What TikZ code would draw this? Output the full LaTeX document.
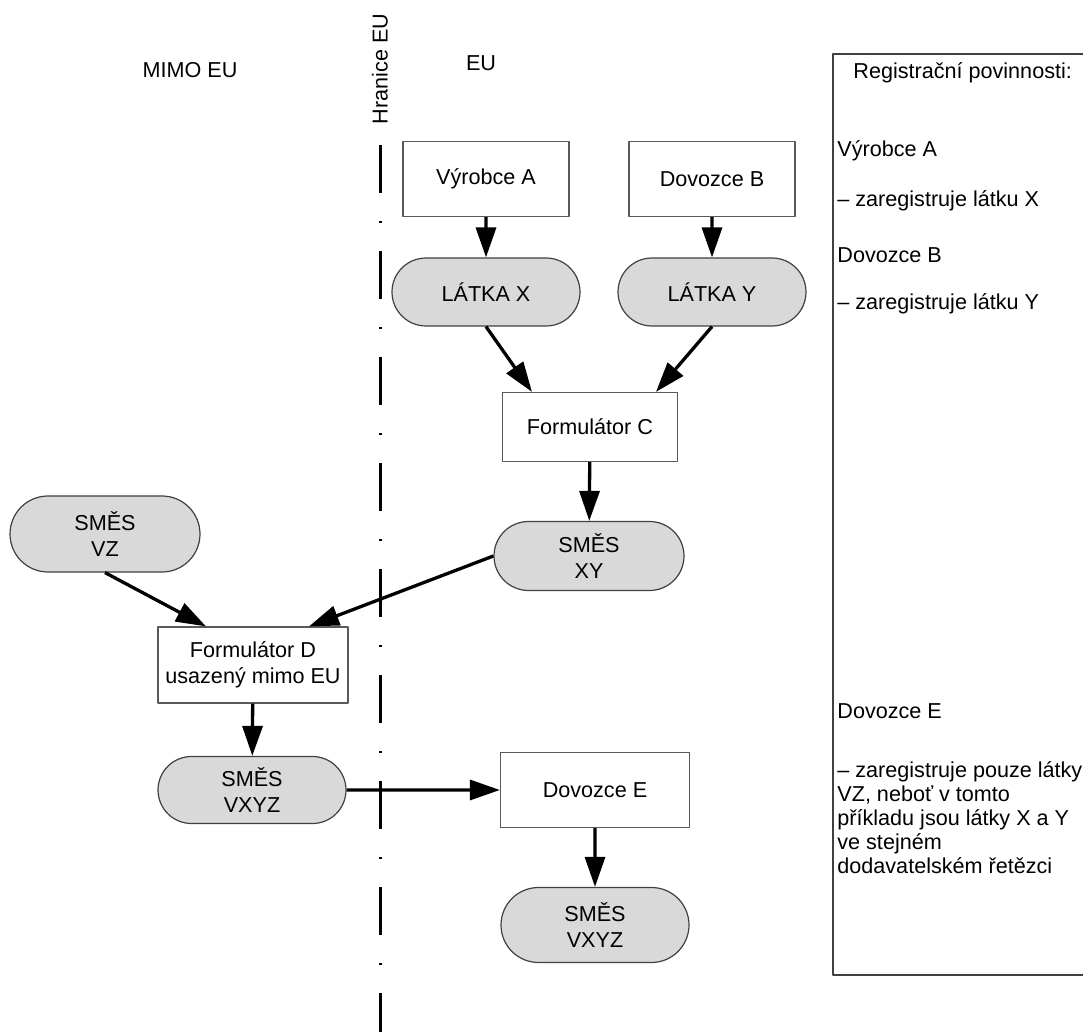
\documentclass[tikz,border=0pt]{standalone}
\usepackage{fontspec}
\setmainfont{Liberation Sans}
\usetikzlibrary{arrows.meta,shapes.misc}
\begin{document}
\begin{tikzpicture}[x=0.5pt, y=-0.5pt, font=\fontsize{10.8}{13}\selectfont, line join=round, >={Triangle[length=15pt,width=10pt]},
	box/.style={draw=black!65, line width=0.6pt, minimum width=83pt, minimum height=37.5pt, align=center, inner sep=2pt},
	pill/.style={rounded rectangle, draw=black!75, fill=gray!30, line width=0.6pt, minimum width=98pt, minimum height=34pt, align=center, inner sep=2pt},
	flow/.style={->, line width=1.65pt},
	note/.style={anchor=base west, inner sep=0pt}]
			\clip (0,0) rectangle (1083,1032);
			\fill[white] (0,0) rectangle (1083,1032);
			\node (mimo) at (190,70) {MIMO EU};
			\node (eu) at (481,63) {EU};
			\node[rotate=90] (hranice) at (380,69) {Hranice EU};
			\draw[line width=1.5pt, dash pattern=on 24pt off 14pt on 1pt off 14pt] (380,145) -- (380,1040);
			\node[box] (vyrobceA) at (486,179) {Výrobce A};
			\node[box] (dovozceB) at (712,179) {Dovozce B};
			\node[pill] (latkaX) at (486,292) {LÁTKA X};
			\node[pill] (latkaY) at (712,292) {LÁTKA Y};
			\node[box, minimum width=87.5pt, minimum height=34.5pt] (formC) at (590,427) {Formulátor C};
			\node[pill, minimum width=99pt, minimum height=34.5pt] (smesXY) at (589,556) {SMĚS\\XY};
			\node[pill, minimum width=99pt, minimum height=38pt] (smesVZ) at (105,534) {SMĚS\\VZ};
			\node[box, minimum width=95pt, minimum height=38pt] (formD) at (253,665) {Formulátor D\\usazený mimo EU};
			\node[pill, minimum width=98pt, minimum height=33.5pt] (smesVXYZ) at (252,790) {SMĚS\\VXYZ};
			\node[box, minimum width=94.5pt] (dovozceE) at (595,790) {Dovozce E};
			\node[pill, minimum width=98pt, minimum height=37.5pt] (smesE) at (595,925) {SMĚS\\VXYZ};
			\draw[flow] (vyrobceA) -- (latkaX);
			\draw[flow] (dovozceB) -- (latkaY);
			\draw[flow] (latkaX.south) -- ([xshift=-29pt]formC.north);
			\draw[flow] (latkaY.south) -- ([xshift=33pt]formC.north);
			\draw[flow] (formC) -- (smesXY);
			\draw[flow] (smesVZ.south) -- ([xshift=-23.5pt]formD.north);
			\draw[flow] (smesXY.west) -- ([xshift=28pt]formD.north);
			\draw[flow] (formD) -- (smesVXYZ);
			\draw[flow] (smesVXYZ) -- (dovozceE);
			\draw[flow] (dovozceE) -- (smesE);
			\draw[black!75, line width=0.6pt] (833,54) rectangle (1090,975);
			\node[note] (regtitle) at (853,79) {Registrační povinnosti:};
			\node[note] (regA) at (837,157) {Výrobce A};
			\node[note] (regAtext) at (837,207) {– zaregistruje látku X};
			\node[note] (regB) at (837,263) {Dovozce B};
			\node[note] (regBtext) at (837,310) {– zaregistruje látku Y};
			\node[note] (regE) at (837,718) {Dovozce E};
			\node[anchor=north west, inner sep=0pt, align=left, font=\fontsize{10.8}{12}\selectfont] (regEtext) at (837,761) {– zaregistruje pouze látky\\VZ, neboť v tomto\\příkladu jsou látky X a Y\\ve stejném\\dodavatelském řetězci};
		\end{tikzpicture}
\end{document}
